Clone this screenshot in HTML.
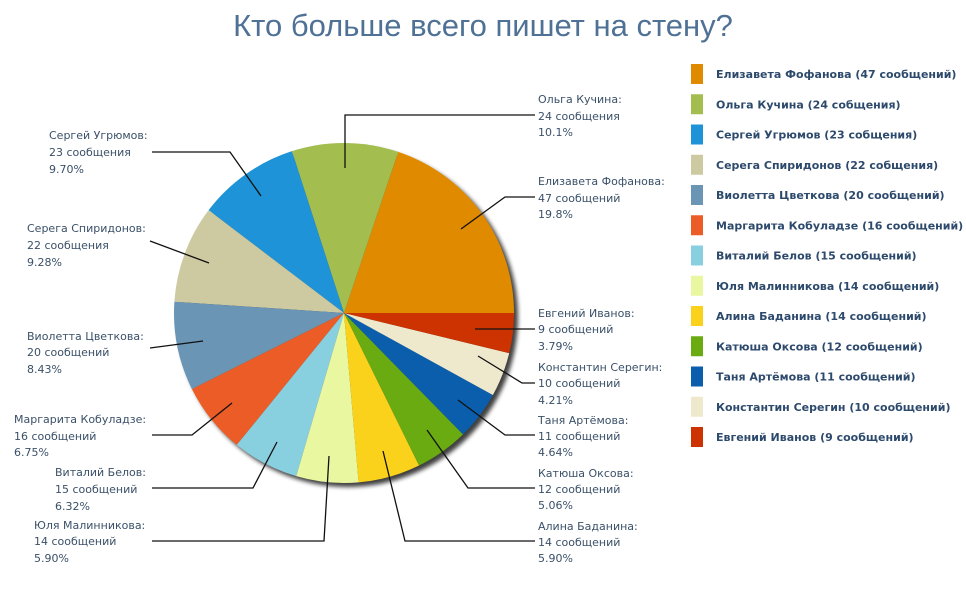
<!DOCTYPE html>
<html><head><meta charset="utf-8">
<style>
html,body{margin:0;padding:0;background:#fff;width:966px;height:604px;overflow:hidden}
svg{display:block}
.t{font-family:"DejaVu Sans","Liberation Sans",sans-serif;font-size:11px;fill:#3a5068}
.lg{font-family:"DejaVu Sans","Liberation Sans",sans-serif;font-size:11px;font-weight:bold;fill:#2d4a6c}
</style></head><body>
<svg id="s" width="966" height="604" viewBox="0 0 966 604" xmlns="http://www.w3.org/2000/svg">
<text x="483" y="36" text-anchor="middle" font-family="Liberation Sans, sans-serif" font-size="31" fill="#4f7196">Кто больше всего пишет на стену?</text>
<defs><filter id="bl" x="-10%" y="-10%" width="130%" height="130%"><feGaussianBlur stdDeviation="2"/></filter></defs>
<circle cx="348" cy="317" r="170" fill="#000" opacity="0.75" filter="url(#bl)"/>
<g id="pie"></g>
<g stroke="#111" stroke-width="1.3" fill="none">
<polyline points="345,168 345,115 535,115"/>
<polyline points="461,229 505,197 535,197"/>
<polyline points="475,329 535,329"/>
<polyline points="478,356 522,383 535,383"/>
<polyline points="458,400 505,435 535,435"/>
<polyline points="427,430 468,488 535,488"/>
<polyline points="383,451 405,541 535,541"/>
<polyline points="329,456 324,541 152,541"/>
<polyline points="277,442 253,488 152,488"/>
<polyline points="232,403 192,435 152,435"/>
<polyline points="203,341 150,348"/>
<polyline points="209,263 150,241"/>
<polyline points="261,196 230,152 152,152"/>
</g>
<g class="t">
<text x="538" y="103">Ольга Кучина:</text><text x="538" y="120">24 сообщения</text><text x="538" y="136">10.1%</text>
<text x="538" y="185">Елизавета Фофанова:</text><text x="538" y="202">47 сообщений</text><text x="538" y="218">19.8%</text>
<text x="538" y="317">Евгений Иванов:</text><text x="538" y="333">9 сообщений</text><text x="538" y="350">3.79%</text>
<text x="538" y="371">Константин Серегин:</text><text x="538" y="387">10 сообщений</text><text x="538" y="404">4.21%</text>
<text x="538" y="424">Таня Артёмова:</text><text x="538" y="440">11 сообщений</text><text x="538" y="456">4.64%</text>
<text x="538" y="477">Катюша Оксова:</text><text x="538" y="493">12 сообщений</text><text x="538" y="509">5.06%</text>
<text x="538" y="530">Алина Баданина:</text><text x="538" y="546">14 сообщений</text><text x="538" y="562">5.90%</text>
<text x="49" y="139">Сергей Угрюмов:</text><text x="49" y="156">23 сообщения</text><text x="49" y="173">9.70%</text>
<text x="27" y="232">Серега Спиридонов:</text><text x="27" y="249">22 сообщения</text><text x="27" y="266">9.28%</text>
<text x="27" y="340">Виолетта Цветкова:</text><text x="27" y="356">20 сообщений</text><text x="27" y="373">8.43%</text>
<text x="14" y="423">Маргарита Кобуладзе:</text><text x="14" y="440">16 сообщений</text><text x="14" y="456">6.75%</text>
<text x="55" y="476">Виталий Белов:</text><text x="55" y="493">15 сообщений</text><text x="55" y="510">6.32%</text>
<text x="34" y="529">Юля Малинникова:</text><text x="34" y="545">14 сообщений</text><text x="34" y="562">5.90%</text>
</g>
<g id="leg"></g>
</svg>
<script>
var d=[[47,"#e08a00","Елизавета Фофанова (47 сообщений)"],[24,"#a3bd4f","Ольга Кучина (24 собщения)"],[23,"#1e93d8","Сергей Угрюмов (23 собщения)"],[22,"#cdc9a1","Серега Спиридонов (22 собщения)"],[20,"#6a95b5","Виолетта Цветкова (20 сообщений)"],[16,"#ec5c26","Маргарита Кобуладзе (16 сообщений)"],[15,"#88d0e0","Виталий Белов (15 сообщений)"],[14,"#e8f7a0","Юля Малинникова (14 сообщений)"],[14,"#fad21c","Алина Баданина (14 сообщений)"],[12,"#6aab12","Катюша Оксова (12 сообщений)"],[11,"#0a5eab","Таня Артёмова (11 сообщений)"],[10,"#eee8cd","Константин Серегин (10 сообщений)"],[9,"#cc3300","Евгений Иванов (9 сообщений)"]];
var NS="http://www.w3.org/2000/svg",cx=344,cy=313,r=170,a=0,tot=237,pie=document.getElementById("pie"),leg=document.getElementById("leg");
d.forEach(function(e,i){
 var a2=a+e[0]/tot*2*Math.PI;
 var x1=cx+r*Math.cos(a),y1=cy-r*Math.sin(a),x2=cx+r*Math.cos(a2),y2=cy-r*Math.sin(a2);
 var p=document.createElementNS(NS,"path");
 p.setAttribute("d","M"+cx+","+cy+"L"+x1+","+y1+"A"+r+","+r+" 0 "+((a2-a)>Math.PI?1:0)+" 0 "+x2+","+y2+"Z");
 p.setAttribute("fill",e[1]);pie.appendChild(p);a=a2;
 var y=64+i*30.25;
 var rc=document.createElementNS(NS,"rect");rc.setAttribute("x",691);rc.setAttribute("y",y);rc.setAttribute("width",12);rc.setAttribute("height",20);rc.setAttribute("fill",e[1]);leg.appendChild(rc);
 var t=document.createElementNS(NS,"text");t.setAttribute("x",716);t.setAttribute("y",y+14);t.setAttribute("class","lg");t.textContent=e[2];leg.appendChild(t);
});
</script>
</body></html>
